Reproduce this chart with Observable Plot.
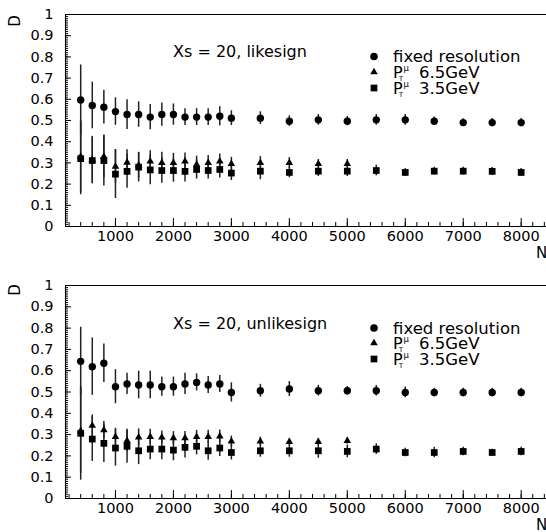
<!DOCTYPE html>
<html><head><meta charset="utf-8">
<script src="https://cdn.jsdelivr.net/npm/d3@7"></script>
<script src="https://cdn.jsdelivr.net/npm/@observablehq/plot@0.6"></script>
<style>body{margin:0;background:#fff;} #chart{width:546px;} svg{display:block;}</style>
</head><body><div id="chart"></div>
<script>
// x positions (N)
const N = [400,600,800,1000,1200,1400,1600,1800,2000,2200,2400,2600,2800,3000,3500,4000,4500,5000,5500,6000,6500,7000,7500,8000];

// Top panel: Xs = 20, likesign
const likeFixed    = [0.597,0.571,0.563,0.542,0.528,0.528,0.516,0.528,0.528,0.516,0.516,0.516,0.520,0.511,0.511,0.497,0.503,0.497,0.503,0.503,0.497,0.490,0.490,0.490];
const likeFixedErr = [0.165,0.110,0.080,0.065,0.070,0.060,0.060,0.055,0.050,0.040,0.040,0.040,0.045,0.035,0.030,0.025,0.025,0.022,0.025,0.025,0.020,0.018,0.020,0.020];
const like65       = [0.330,0.315,0.330,0.283,0.302,0.288,0.307,0.300,0.300,0.307,0.292,0.300,0.307,0.296,0.300,0.300,0.296,0.296];
const like65Err    = [0.170,0.110,0.100,0.080,0.060,0.060,0.050,0.050,0.045,0.040,0.040,0.035,0.035,0.030,0.030,0.025,0.020,0.020];
const like35       = [0.320,0.311,0.311,0.247,0.260,0.280,0.267,0.264,0.264,0.260,0.269,0.264,0.269,0.252,0.261,0.255,0.261,0.261,0.264,0.255,0.261,0.261,0.260,0.255];
const like35Err    = [0.170,0.110,0.120,0.115,0.080,0.070,0.070,0.060,0.055,0.050,0.045,0.040,0.040,0.035,0.040,0.025,0.025,0.025,0.025,0.018,0.018,0.018,0.018,0.018];

// Bottom panel: Xs = 20, unlikesign
const unlikeFixed    = [0.644,0.619,0.635,0.525,0.538,0.533,0.533,0.525,0.525,0.538,0.545,0.533,0.538,0.498,0.506,0.514,0.506,0.506,0.506,0.498,0.498,0.498,0.498,0.498];
const unlikeFixedErr = [0.160,0.135,0.090,0.080,0.050,0.065,0.065,0.045,0.045,0.050,0.040,0.040,0.040,0.045,0.030,0.035,0.025,0.020,0.025,0.025,0.020,0.020,0.020,0.020];
const unlike65       = [0.318,0.342,0.321,0.290,0.271,0.287,0.290,0.287,0.284,0.284,0.290,0.290,0.292,0.268,0.268,0.266,0.266,0.271];
const unlike65Err    = [0.200,0.050,0.040,0.040,0.050,0.040,0.035,0.030,0.030,0.030,0.030,0.030,0.030,0.025,0.020,0.015,0.015,0.015];
const unlike35       = [0.306,0.279,0.259,0.237,0.245,0.224,0.232,0.232,0.227,0.240,0.245,0.224,0.237,0.216,0.224,0.224,0.224,0.221,0.232,0.216,0.216,0.221,0.216,0.221];
const unlike35Err    = [0.220,0.105,0.090,0.085,0.080,0.065,0.050,0.050,0.050,0.050,0.040,0.045,0.040,0.035,0.030,0.030,0.035,0.030,0.025,0.020,0.025,0.020,0.015,0.020];

const titles = ["Xs = 20, likesign", "Xs = 20, unlikesign"];
const legendLabels = ["fixed resolution", "6.5GeV", "3.5GeV"];
const yTickLabels = [0,0.1,0.2,0.3,0.4,0.5,0.6,0.7,0.8,0.9,1];
const xTickLabels = [1000,2000,3000,4000,5000,6000,7000,8000];
const yLabel = "D";
const xLabel = "N.";

const X_DOMAIN = [138, 8437];
const minorX = d3.range(200, 8401, 200);
const minorY = d3.range(0, 101).map(i => i / 100);
const FONT = "DejaVu Sans";

function rows(ys, es) {
  return ys.map((v, i) => ({n: N[i], d: v, lo: v - es[i], hi: v + es[i]}));
}

function makePanel(cfg) {
  const fixed = rows(cfg.fixed, cfg.fixedErr);
  const s65 = rows(cfg.s65, cfg.s65Err);
  const s35 = rows(cfg.s35, cfg.s35Err);
  const barStyle = {x: "n", y1: "lo", y2: "hi", stroke: "#222", strokeWidth: 1.5};
  const plot = Plot.plot({
    width: 546, height: cfg.height,
    marginLeft: 65, marginRight: 0, marginTop: cfg.mt, marginBottom: cfg.mb,
    style: {fontFamily: FONT, fontSize: "14.5px", color: "#000", background: "#fff", overflow: "visible"},
    x: {domain: X_DOMAIN, axis: null, label: null},
    y: {domain: [0, 1], axis: null, label: null},
    marks: [
      Plot.ruleY([0, 1], {stroke: "#000", strokeWidth: 1.1}),
      Plot.ruleX([X_DOMAIN[0]], {stroke: "#000", strokeWidth: 1.1}),
      Plot.axisX({ticks: minorX, tickSize: -4, text: null, label: null, stroke: "#000"}),
      Plot.axisX({ticks: xTickLabels, tickSize: -8, text: null, label: null, stroke: "#000"}),
      Plot.axisX({ticks: xTickLabels, tickSize: 0, tickPadding: 4, label: null, tickFormat: d => String(d), fill: "#000", fontSize: 14.5}),
      Plot.axisY({ticks: minorY, tickSize: -3, text: null, label: null, stroke: "#000"}),
      Plot.axisY({ticks: yTickLabels, tickSize: -6, text: null, label: null, stroke: "#000"}),
      Plot.axisY({ticks: yTickLabels, tickSize: 0, tickPadding: 12, label: null, tickFormat: d => String(+d.toFixed(1)), fill: "#000", fontSize: 14.5}),
      Plot.ruleX(fixed, barStyle),
      Plot.ruleX(s65, barStyle),
      Plot.ruleX(s35, barStyle),
      Plot.dot(fixed, {x: "n", y: "d", symbol: "circle", r: 3.7, fill: "#000"}),
      Plot.dot(s65, {x: "n", y: "d", symbol: "triangle", r: 2.8, fill: "#000"}),
      Plot.dot(s35, {x: "n", y: "d", symbol: "square", r: 3.8, fill: "#000"})
    ]
  });
  const svg = d3.select(plot);
  const g = svg.append("g").attr("font-family", FONT).attr("fill", "#000").attr("text-anchor", "start");
  // title
  g.append("text").attr("x", 173).attr("y", cfg.titleY).attr("dy", "0.35em")
    .attr("font-size", 16).text(cfg.title);
  // legend
  const lx = 374, tx = 393;
  const ly = cfg.legendY;
  g.append("circle").attr("cx", lx).attr("cy", ly[0]).attr("r", 3.8);
  g.append("path").attr("transform", `translate(${lx},${ly[1]})`).attr("d", d3.symbol(d3.symbolTriangle, 2.8*2.8*Math.PI)());
  g.append("path").attr("transform", `translate(${lx},${ly[2]})`).attr("d", d3.symbol(d3.symbolSquare, 3.8*3.8*Math.PI)());
  g.append("text").attr("x", tx).attr("y", ly[0]).attr("dy", "0.35em").attr("font-size", 16.5).text(legendLabels[0]);
  for (let k = 1; k < 3; k++) {
    g.append("text").attr("x", tx).attr("y", ly[k]).attr("dy", "0.35em").attr("font-size", 16).text("P");
    g.append("text").attr("x", tx + 6).attr("y", ly[k] + 6.5).attr("dy", "0.35em").attr("font-size", 6.5).text("T");
    g.append("text").attr("x", tx + 10.5).attr("y", ly[k] - 4).attr("dy", "0.35em").attr("font-size", 8.5).text("\u03bc");
    g.append("text").attr("x", tx + 26).attr("y", ly[k]).attr("dy", "0.35em").attr("font-size", 16.5).text(legendLabels[k]);
  }
  // axis labels
  g.append("text").attr("transform", `translate(15,${cfg.dY}) rotate(-90)`).attr("text-anchor", "middle")
    .attr("dy", "0.35em").attr("font-size", 15).text(yLabel);
  g.append("text").attr("x", 536).attr("y", cfg.nY).attr("dy", "0.35em").attr("font-size", 15).text(xLabel);
  return plot;
}

const chart = document.getElementById("chart");
chart.appendChild(makePanel({
  height: 270, mt: 14, mb: 44, title: titles[0], titleY: 51, legendY: [56.5, 72, 88], dY: 21, nY: 253,
  fixed: likeFixed, fixedErr: likeFixedErr, s65: like65, s65Err: like65Err, s35: like35, s35Err: like35Err
}));
chart.appendChild(makePanel({
  height: 262, mt: 15, mb: 34, title: titles[1], titleY: 53, legendY: [58, 73, 89], dY: 20, nY: 255,
  fixed: unlikeFixed, fixedErr: unlikeFixedErr, s65: unlike65, s65Err: unlike65Err, s35: unlike35, s35Err: unlike35Err
}));
</script>
</body></html>
